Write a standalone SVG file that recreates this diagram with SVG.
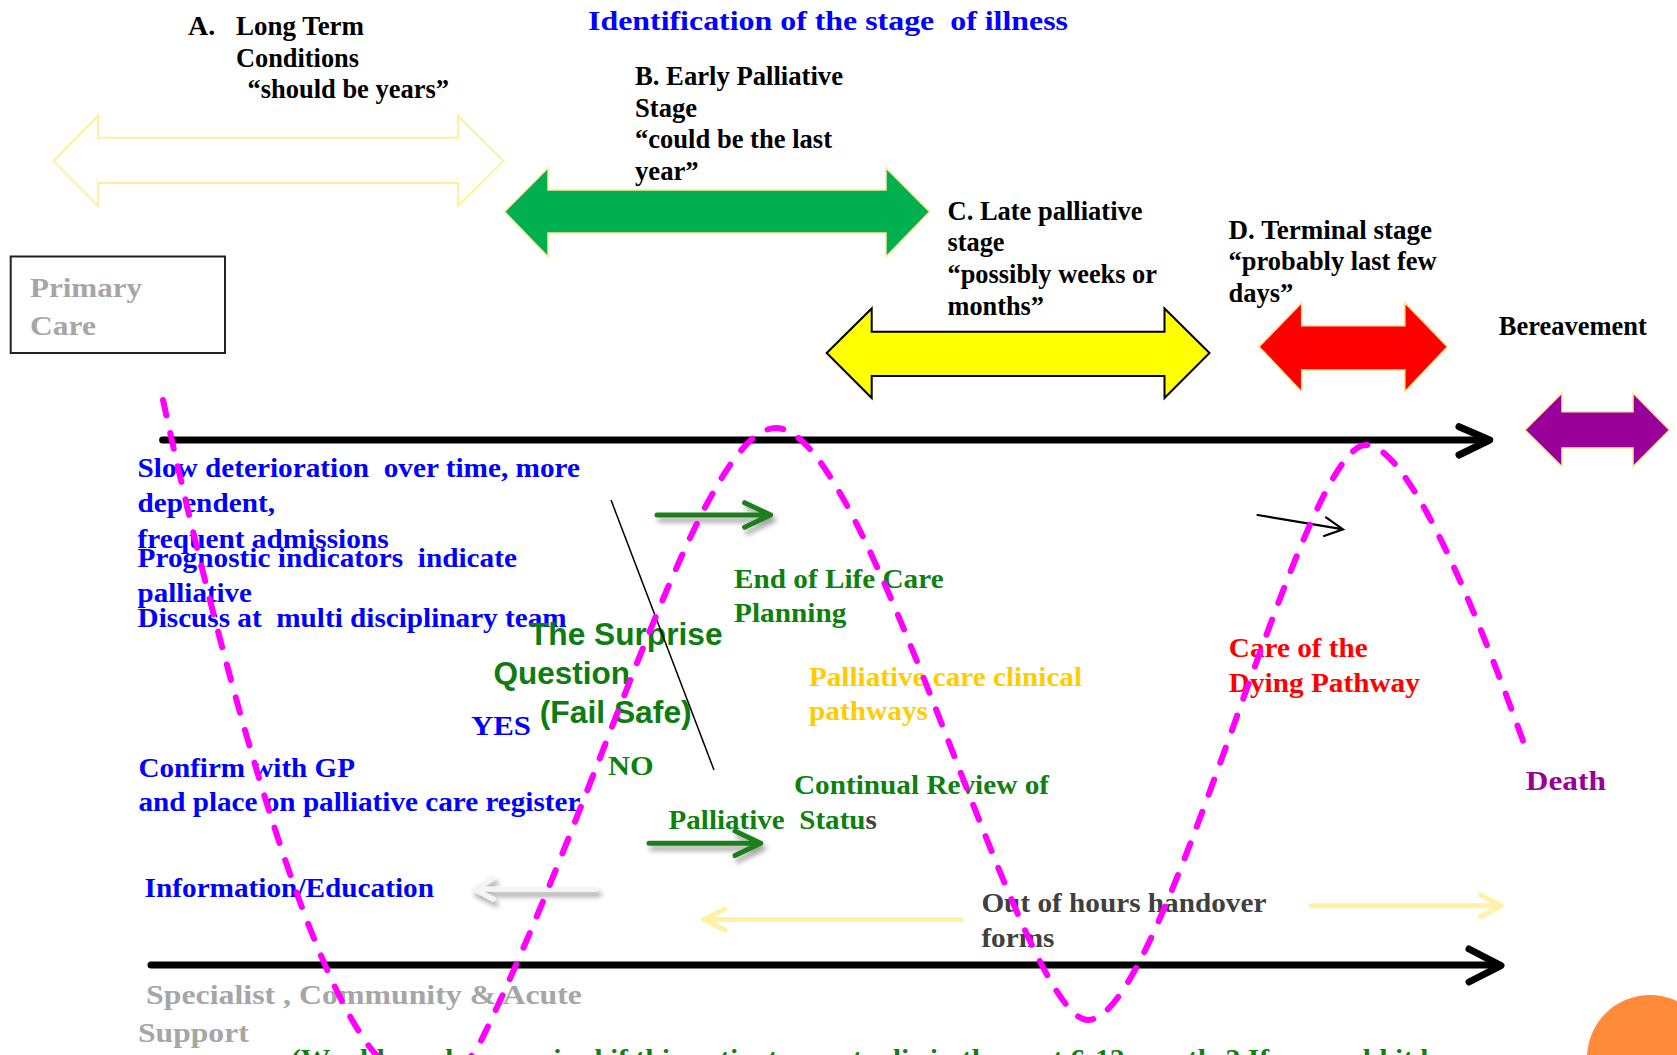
<svg xmlns="http://www.w3.org/2000/svg" width="1677" height="1055" viewBox="0 0 1677 1055">
<defs>
<style>
text{white-space:pre}
.t{font-family:"Liberation Serif","Times New Roman",serif;font-weight:bold;font-size:28px}
.a{font-family:"Liberation Sans",Arial,sans-serif;font-weight:bold;font-size:31px;fill:#0E7C0E}
.blk{fill:#000}
.blue{fill:#0000FF}
.grn{fill:#0E800E}
.gray{fill:#A6A6A6}
.dbl{stroke:#FFE699;stroke-width:1.5}
.ax{fill:none;stroke:#000;stroke-width:7;stroke-linecap:round;stroke-linejoin:round}
.arr{fill:none;stroke-width:5;stroke-linecap:round;stroke-linejoin:round}
</style>
<filter id="sh" x="-20%" y="-50%" width="140%" height="250%">
<feDropShadow dx="3" dy="5" stdDeviation="2.5" flood-color="#000" flood-opacity="0.35"/>
</filter>
</defs>
<rect width="1677" height="1055" fill="#fff"/>
<g id="title"><text xml:space="preserve" class="t blue" x="588" y="30" font-size="32" textLength="480" lengthAdjust="spacingAndGlyphs">Identification of the stage  of illness</text></g>
<g id="stage-a">
<polygon points="53.6,161 98,115.7 98,137.7 458,137.7 458,115.7 503.6,161 458,206 458,183 98,183 98,206" fill="#fff" stroke="#FFF0A0" stroke-width="2"/>
<text class="t blk" x="188" y="35">A.</text>
<text class="t blk" x="236" y="35" textLength="128" lengthAdjust="spacingAndGlyphs">Long Term</text>
<text class="t blk" x="236" y="66.7" textLength="123" lengthAdjust="spacingAndGlyphs">Conditions</text>
<text class="t blk" x="247.5" y="97.7" textLength="201.5" lengthAdjust="spacingAndGlyphs">“should be years”</text>
</g>
<g id="stage-b">
<polygon class="dbl" points="504.6,211.7 548,168 548,190 886,190 886,168 929.6,211.7 886,256.7 886,233 548,233 548,256.7" fill="#00B050"/>
<text class="t blk" x="635" y="85" textLength="208" lengthAdjust="spacingAndGlyphs">B. Early Palliative</text>
<text class="t blk" x="635" y="117" textLength="62" lengthAdjust="spacingAndGlyphs">Stage</text>
<text class="t blk" x="635" y="148" textLength="197" lengthAdjust="spacingAndGlyphs">“could be the last</text>
<text class="t blk" x="635" y="180" textLength="63.6" lengthAdjust="spacingAndGlyphs">year”</text>
</g>
<g id="stage-c">
<polygon points="826.7,353 871.7,308.5 871.7,331.7 1164.5,331.7 1164.5,308.5 1209.5,353 1164.5,398 1164.5,376 871.7,376 871.7,398" fill="#FFFF00" stroke="#000" stroke-width="2"/>
<text class="t blk" x="947.5" y="220" textLength="195" lengthAdjust="spacingAndGlyphs">C. Late palliative</text>
<text class="t blk" x="947.5" y="251" textLength="57" lengthAdjust="spacingAndGlyphs">stage</text>
<text class="t blk" x="947.5" y="283" textLength="209.5" lengthAdjust="spacingAndGlyphs">“possibly weeks or</text>
<text class="t blk" x="947.5" y="315" textLength="96.5" lengthAdjust="spacingAndGlyphs">months”</text>
</g>
<g id="stage-d">
<polygon class="dbl" points="1259,346.7 1301.7,302.7 1301.7,325.7 1404.8,325.7 1404.8,302.7 1447.4,346.7 1404.8,391.7 1404.8,370 1301.7,370 1301.7,391.7" fill="#FF0000"/>
<text class="t blk" x="1228.6" y="239" textLength="203.4" lengthAdjust="spacingAndGlyphs">D. Terminal stage</text>
<text class="t blk" x="1228.6" y="270" textLength="208" lengthAdjust="spacingAndGlyphs">“probably last few</text>
<text class="t blk" x="1228.6" y="301.7" textLength="64.7" lengthAdjust="spacingAndGlyphs">days”</text>
</g>
<g id="bereavement">
<polygon class="dbl" points="1525,430 1562,393 1562,411.7 1633,411.7 1633,393 1669.5,430 1633,466.7 1633,448 1562,448 1562,466.7" fill="#990099"/>
<text class="t blk" x="1498.8" y="335" font-size="26" textLength="148" lengthAdjust="spacingAndGlyphs">Bereavement</text>
</g>
<g id="primary-care">
<rect x="10.7" y="256.5" width="214.3" height="96.5" fill="#fff" stroke="#222" stroke-width="2"/>
<text class="t gray" x="30" y="296.7" font-size="32" textLength="112" lengthAdjust="spacingAndGlyphs">Primary</text>
<text class="t gray" x="30" y="335" font-size="32" textLength="66" lengthAdjust="spacingAndGlyphs">Care</text>
</g>
<g id="left-notes">
<text xml:space="preserve" class="t blue" x="137.6" y="476.7" textLength="442.4" lengthAdjust="spacingAndGlyphs">Slow deterioration  over time, more</text>
<text class="t blue" x="137.6" y="511.7" textLength="137.4" lengthAdjust="spacingAndGlyphs">dependent,</text>
<text class="t blue" x="137.6" y="548.3" textLength="251" lengthAdjust="spacingAndGlyphs">frequent admissions</text>
<text xml:space="preserve" class="t blue" x="137.6" y="567.3" textLength="379.4" lengthAdjust="spacingAndGlyphs">Prognostic indicators  indicate</text>
<text class="t blue" x="137.6" y="601.7" textLength="114.4" lengthAdjust="spacingAndGlyphs">palliative</text>
<text xml:space="preserve" class="t blue" x="137.6" y="626.7" textLength="429" lengthAdjust="spacingAndGlyphs">Discuss at  multi disciplinary team</text>
<text class="t blue" x="138.4" y="777" textLength="216.6" lengthAdjust="spacingAndGlyphs">Confirm with GP</text>
<text class="t blue" x="138.4" y="811" textLength="442" lengthAdjust="spacingAndGlyphs">and place on palliative care register</text>
<text class="t blue" x="144.6" y="897.3" textLength="289.4" lengthAdjust="spacingAndGlyphs">Information/Education</text>
</g>
<g id="surprise-question">
<text class="a" x="529" y="645" textLength="193.5" lengthAdjust="spacingAndGlyphs">The Surprise</text>
<text class="a" x="493.4" y="684" textLength="136.6" lengthAdjust="spacingAndGlyphs">Question</text>
<text class="a" x="539.7" y="723.3" textLength="152" lengthAdjust="spacingAndGlyphs">(Fail Safe)</text>
<text class="t blue" x="471" y="735" font-size="32" textLength="60" lengthAdjust="spacingAndGlyphs">YES</text>
<text class="t grn" x="608" y="775" font-size="31" textLength="45.6" lengthAdjust="spacingAndGlyphs">NO</text>
</g>
<g id="eolc-planning">
<text class="t grn" x="734" y="587.7" font-size="29" textLength="209.6" lengthAdjust="spacingAndGlyphs">End of Life Care</text>
<text class="t grn" x="734" y="622.3" font-size="29" textLength="112.4" lengthAdjust="spacingAndGlyphs">Planning</text>
</g>
<g id="clinical-pathways">
<text class="t" fill="#FFCC00" x="809" y="685.7" font-size="29" textLength="273" lengthAdjust="spacingAndGlyphs">Palliative care clinical</text>
<text class="t" fill="#FFCC00" x="809" y="720" font-size="29" textLength="119" lengthAdjust="spacingAndGlyphs">pathways</text>
</g>
<g id="continual-review">
<text class="t grn" x="794" y="794" font-size="29" textLength="255" lengthAdjust="spacingAndGlyphs">Continual Review of</text>
<text xml:space="preserve" class="t grn" x="668.6" y="829.3" font-size="29" textLength="208.2" lengthAdjust="spacingAndGlyphs">Palliative  Statu<tspan fill="#404040">s</tspan></text>
</g>
<g id="dying-pathway">
<text class="t" fill="#FF0000" x="1228.8" y="657.3" font-size="29" textLength="139" lengthAdjust="spacingAndGlyphs">Care of the</text>
<text class="t" fill="#FF0000" x="1228.8" y="691.7" font-size="29" textLength="191" lengthAdjust="spacingAndGlyphs">Dying Pathway</text>
</g>
<g id="death"><text class="t" fill="#990099" x="1525.8" y="790" font-size="31" textLength="80" lengthAdjust="spacingAndGlyphs">Death</text></g>
<g id="handover">
<text class="t" fill="#404040" x="981.4" y="911.7" font-size="29" textLength="285" lengthAdjust="spacingAndGlyphs">Out of hours handover</text>
<text class="t" fill="#404040" x="981.4" y="946.7" font-size="29" textLength="73" lengthAdjust="spacingAndGlyphs">forms</text>
</g>
<g id="specialist-support">
<text class="t gray" x="146" y="1004.3" font-size="30" textLength="436" lengthAdjust="spacingAndGlyphs">Specialist , Community &amp; Acute</text>
<text class="t gray" x="138" y="1041.7" font-size="30" textLength="110.7" lengthAdjust="spacingAndGlyphs">Support</text>
</g>
<g id="footer-question"><text class="t grn" x="291" y="1068" textLength="1159" lengthAdjust="spacingAndGlyphs">(Would you be surprised if this patient were to die in the next 6-12 months? If so would it be</text></g>
<g id="corner"><circle cx="1650" cy="1058" r="63" fill="#FF8B3A"/></g>
<g id="connectors">
<line x1="162.6" y1="440" x2="1486" y2="440" class="ax"/>
<polyline points="1459,426.7 1489.7,440 1459,455" class="ax"/>
<line x1="151" y1="965" x2="1497" y2="965" class="ax"/>
<polyline points="1469,949 1501,965.7 1469,982" class="ax"/>
<line x1="611" y1="500" x2="714" y2="770" stroke="#000" stroke-width="1.5"/>
<g filter="url(#sh)">
<path d="M657,515 H768 M744.6,502.7 L770.7,515 L744.6,527.3" class="arr" stroke="#1E7F1E"/>
<path d="M649,843.3 H758 M735,831 L760.7,843.3 L735,855.6" class="arr" stroke="#1E7F1E"/>
<path d="M596,889.3 H476 M493,878 L474,889.3 L493,899" class="arr" stroke="#F4F4F4"/>
</g>
<path d="M961,919.5 H706 M725,909 L703.6,919.5 L725,930" class="arr" stroke="#FFF2A6"/>
<path d="M1311,905.7 H1498 M1480.8,895 L1501,905.7 L1480.8,916.7" class="arr" stroke="#FFF2A6"/>
<path d="M1257.5,515 L1342,529.2 M1326,517.3 L1343,529.3 L1324,536" fill="none" stroke="#000" stroke-width="2.2" stroke-linecap="round"/>
<path d="M163,400 C215,640 300,960 372,1050 C398,1082 455,1085 478,1047 C600,800 700,428 776,428 C870,428 1020,1020 1088,1020 C1165,1020 1300,445 1366,445 C1410,445 1480,620 1527,752" fill="none" stroke="#FF00FF" stroke-width="6" stroke-dasharray="16 18" stroke-linecap="round"/>
</g>
</svg>
